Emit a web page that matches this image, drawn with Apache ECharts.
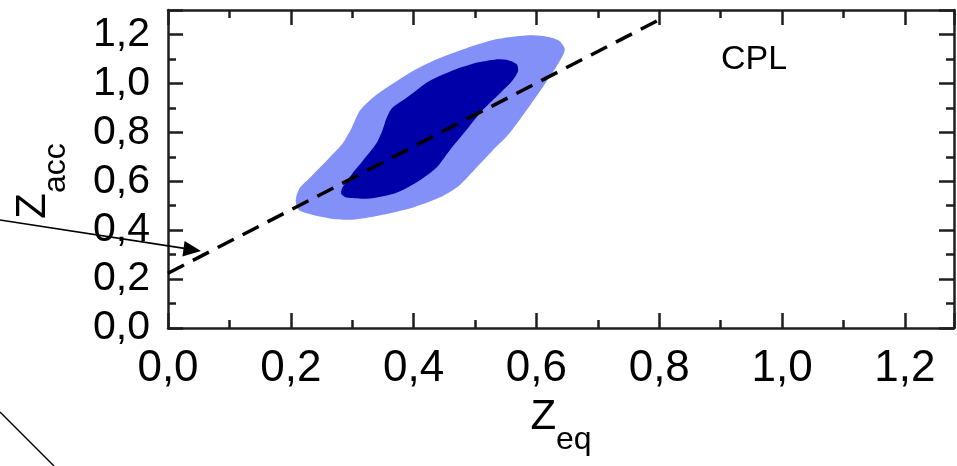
<!DOCTYPE html>
<html>
<head>
<meta charset="utf-8">
<script src="https://cdn.jsdelivr.net/npm/echarts@6/dist/echarts.min.js"></script>
<style>
  html, body { margin: 0; padding: 0; background: #fff; }
  #main { width: 957px; height: 466px; }
</style>
</head>
<body>
<div id="main"></div>
<script>
// outer (light) and inner (dark) confidence regions, [z_eq, z_acc]
var outerContour = [
  [0.208, 0.521], [0.214, 0.480], [0.263, 0.448], [0.300, 0.443], [0.344, 0.460],
  [0.398, 0.492], [0.442, 0.533], [0.474, 0.582], [0.502, 0.655], [0.528, 0.724],
  [0.555, 0.793], [0.583, 0.887], [0.609, 0.980], [0.631, 1.062], [0.644, 1.119],
  [0.646, 1.143], [0.636, 1.176], [0.615, 1.192], [0.583, 1.196], [0.534, 1.180],
  [0.485, 1.143], [0.437, 1.098], [0.398, 1.050], [0.360, 0.989], [0.333, 0.940],
  [0.312, 0.887], [0.299, 0.818], [0.284, 0.753], [0.263, 0.696], [0.247, 0.655],
  [0.231, 0.614], [0.214, 0.570]
];
var innerContour = [
  [0.284, 0.574], [0.282, 0.549], [0.291, 0.533], [0.328, 0.529], [0.372, 0.553],
  [0.409, 0.602], [0.437, 0.655], [0.458, 0.724], [0.485, 0.806], [0.511, 0.887],
  [0.539, 0.956], [0.560, 1.009], [0.570, 1.050], [0.568, 1.078], [0.555, 1.094],
  [0.534, 1.098], [0.506, 1.086], [0.469, 1.058], [0.425, 1.009], [0.388, 0.940],
  [0.365, 0.899], [0.356, 0.858], [0.349, 0.806], [0.339, 0.753], [0.317, 0.683],
  [0.300, 0.631]
];
var referenceLine = [[0, 0.224], [0.8, 1.26]];
var xTicks = [0, 0.2, 0.4, 0.6, 0.8, 1.0, 1.2];
var yTicks = [0, 0.2, 0.4, 0.6, 0.8, 1.0, 1.2];
var panelLabel = 'CPL';

var FONT = 'Liberation Sans, Arial, sans-serif';
var AX = '#1e1e1e';

function fmt(v) {
  return v.toFixed(1).replace('.', ',');
}

function polygonRenderer(points, color) {
  return function (params, api) {
    if (params.dataIndex !== 0) return null;
    return {
      type: 'polygon',
      shape: { points: points.map(function (p) { return api.coord(p); }), smooth: 0.25 },
      style: { fill: color }
    };
  };
}

function baseAxis(extra) {
  var a = {
    type: 'value',
    min: 0,
    interval: 0.2,
    splitLine: { show: false },
    axisLine: { show: true, onZero: false, lineStyle: { color: AX, width: 2.5 } },
    axisTick: { show: true, inside: true, length: 15, lineStyle: { color: AX, width: 2.5 } },
    minorTick: { show: true, splitNumber: 2, length: 8, lineStyle: { color: AX, width: 2.5 } },
    axisLabel: { show: false }
  };
  for (var k in extra) a[k] = extra[k];
  return a;
}

var nameRich = {
  z: { fontSize: 42, fontFamily: FONT, color: '#000', verticalAlign: 'top', lineHeight: 42 },
  s: { fontSize: 32, fontFamily: FONT, color: '#000', verticalAlign: 'top', lineHeight: 32, padding: [28, 0, 0, 0] }
};

var chart = echarts.init(document.getElementById('main'));

var option = {
  backgroundColor: '#fff',
  animation: false,
  grid: { left: 168, right: 0, top: 10, bottom: 138 },
  xAxis: [
    baseAxis({
      max: 1.28,
      position: 'bottom',
      name: '{z|Z}{s|eq}',
      nameLocation: 'middle',
      nameGap: 68,
      nameTextStyle: { rich: nameRich },
      axisLabel: {
        show: true, margin: 19, fontSize: 44, fontFamily: FONT, color: '#000',
        formatter: function (v) { return xTicks.indexOf(+v.toFixed(1)) >= 0 ? fmt(v) : ''; }
      }
    }),
    baseAxis({ max: 1.28, position: 'top' })
  ],
  yAxis: [
    baseAxis({
      max: 1.3,
      position: 'left',
      name: '{z|Z}{s|acc}',
      nameLocation: 'middle',
      nameRotate: 90,
      nameGap: 114,
      nameTextStyle: { rich: nameRich, padding: [0, 24, 0, 0] },
      axisLabel: {
        show: true, margin: 18, fontSize: 41, fontFamily: FONT, color: '#000',
        formatter: function (v) { return yTicks.indexOf(+v.toFixed(1)) >= 0 ? fmt(v) : ''; }
      }
    }),
    baseAxis({ max: 1.3, position: 'right' })
  ],
  series: [
    {
      type: 'custom',
      name: 'outer',
      data: outerContour,
      encode: { x: 0, y: 1 },
      renderItem: polygonRenderer(outerContour, '#8390f7'),
      z: 1,
      silent: true
    },
    {
      type: 'custom',
      name: 'inner',
      data: innerContour,
      encode: { x: 0, y: 1 },
      renderItem: polygonRenderer(innerContour, '#0000a8'),
      z: 2,
      silent: true
    },
    {
      type: 'line',
      name: 'z_acc = z_eq',
      data: referenceLine,
      showSymbol: false,
      symbol: 'none',
      lineStyle: { color: '#000', width: 3.5, type: [18, 10] },
      z: 3,
      silent: true
    }
  ],
  graphic: [
    {
      type: 'text', left: 721, top: 43, z: 10,
      style: { text: panelLabel, font: '34px ' + FONT, fill: '#000' }
    },
    {
      type: 'line', z: 10, silent: true,
      shape: { x1: 0, y1: 220, x2: 186, y2: 248.6 },
      style: { stroke: '#000', lineWidth: 1.6 }
    },
    {
      type: 'polygon', z: 10, silent: true,
      shape: { points: [[201, 251], [184.6, 241], [182.4, 256.6]] },
      style: { fill: '#000' }
    },
    {
      type: 'line', z: 10, silent: true,
      shape: { x1: 0, y1: 412, x2: 54, y2: 466 },
      style: { stroke: '#000', lineWidth: 1.4 }
    }
  ]
};

chart.setOption(option);
</script>
</body>
</html>
